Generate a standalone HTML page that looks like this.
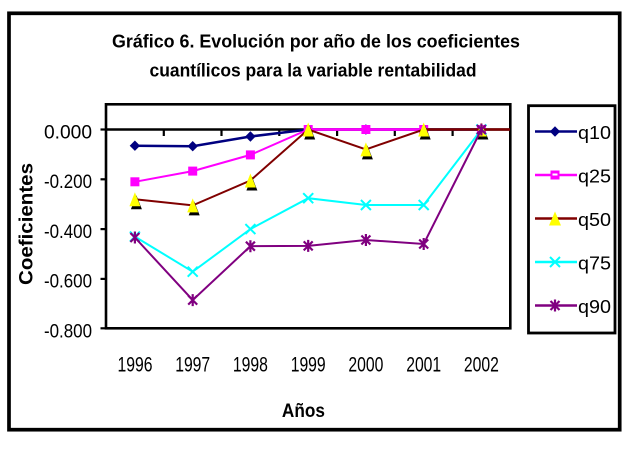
<!DOCTYPE html>
<html><head><meta charset="utf-8"><style>
html,body{margin:0;padding:0;background:#fff;}
svg{display:block;}
text{font-family:"Liberation Sans",Arial,sans-serif;fill:#000;}
</style></head><body>
<svg width="633" height="450" viewBox="0 0 633 450" xmlns="http://www.w3.org/2000/svg">
<rect x="0" y="0" width="633" height="450" fill="#fff"/>
<!-- outer border -->
<rect x="9" y="13.3" width="610.7" height="416.4" fill="none" stroke="#000" stroke-width="3.7"/>
<!-- title -->
<text x="316" y="47.7" font-size="18" font-weight="bold" text-anchor="middle" textLength="408" lengthAdjust="spacingAndGlyphs">Gráfico 6. Evolución por año de los coeficientes</text>
<text x="313" y="76.7" font-size="18" font-weight="bold" text-anchor="middle" textLength="327" lengthAdjust="spacingAndGlyphs">cuantílicos para la variable rentabilidad</text>
<!-- plot area -->
<rect x="106" y="104.3" width="404.3" height="224" fill="none" stroke="#000" stroke-width="2.6"/>
<!-- y ticks -->
<g stroke="#000" stroke-width="2.2">
<line x1="100.5" y1="129.5" x2="106" y2="129.5"/>
<line x1="100.5" y1="179.3" x2="106" y2="179.3"/>
<line x1="100.5" y1="229.1" x2="106" y2="229.1"/>
<line x1="100.5" y1="278.9" x2="106" y2="278.9"/>
<line x1="100.5" y1="328.3" x2="106" y2="328.3"/>
</g>
<!-- zero axis line -->
<line x1="106" y1="129.5" x2="510" y2="129.5" stroke="#000" stroke-width="2.6"/>
<g stroke="#000" stroke-width="2.2">
<line x1="163.8" y1="129.5" x2="163.8" y2="136"/>
<line x1="221.5" y1="129.5" x2="221.5" y2="136"/>
<line x1="279.3" y1="129.5" x2="279.3" y2="136"/>
<line x1="337.1" y1="129.5" x2="337.1" y2="136"/>
<line x1="394.8" y1="129.5" x2="394.8" y2="136"/>
<line x1="452.6" y1="129.5" x2="452.6" y2="136"/>
</g>
<!-- y labels -->
<g font-size="19" text-anchor="end">
<text x="92" y="138.3" textLength="48" lengthAdjust="spacingAndGlyphs">0.000</text>
<text x="92" y="188.1" textLength="48" lengthAdjust="spacingAndGlyphs">-0.200</text>
<text x="92" y="237.9" textLength="48" lengthAdjust="spacingAndGlyphs">-0.400</text>
<text x="92" y="287.7" textLength="48" lengthAdjust="spacingAndGlyphs">-0.600</text>
<text x="92" y="337.3" textLength="48" lengthAdjust="spacingAndGlyphs">-0.800</text>
</g>
<!-- x labels -->
<g font-size="21.5" text-anchor="middle">
<text x="135" y="371.5" textLength="35" lengthAdjust="spacingAndGlyphs">1996</text>
<text x="192.7" y="371.5" textLength="35" lengthAdjust="spacingAndGlyphs">1997</text>
<text x="250.4" y="371.5" textLength="35" lengthAdjust="spacingAndGlyphs">1998</text>
<text x="308.2" y="371.5" textLength="35" lengthAdjust="spacingAndGlyphs">1999</text>
<text x="365.9" y="371.5" textLength="35" lengthAdjust="spacingAndGlyphs">2000</text>
<text x="423.7" y="371.5" textLength="35" lengthAdjust="spacingAndGlyphs">2001</text>
<text x="481.4" y="371.5" textLength="35" lengthAdjust="spacingAndGlyphs">2002</text>
</g>
<!-- axis titles -->
<text x="303.4" y="417" font-size="19" font-weight="bold" text-anchor="middle" textLength="43" lengthAdjust="spacingAndGlyphs">Años</text>
<text transform="translate(32.5,224) rotate(-90)" x="0" y="0" font-size="19" font-weight="bold" text-anchor="middle" textLength="122" lengthAdjust="spacingAndGlyphs">Coeficientes</text>

<!-- q10 -->
<polyline fill="none" stroke="#000080" stroke-width="2.5" points="134.9,145.7 192.7,146.2 250.4,136.5 308.2,129.5 365.9,129.5 423.7,129.5 481.4,129.5"/>
<g fill="#000080">
<polygon points="134.9,140.5 140.1,145.7 134.9,150.9 129.7,145.7"/>
<polygon points="192.7,141 197.9,146.2 192.7,151.4 187.5,146.2"/>
<polygon points="250.4,131.3 255.6,136.5 250.4,141.7 245.2,136.5"/>
<polygon points="308.2,124.3 313.4,129.5 308.2,134.7 303,129.5"/>
<polygon points="365.9,124.3 371.1,129.5 365.9,134.7 360.7,129.5"/>
<polygon points="423.7,124.3 428.9,129.5 423.7,134.7 418.5,129.5"/>
<polygon points="481.4,124.3 486.6,129.5 481.4,134.7 476.2,129.5"/>
</g>
<!-- q25 -->
<polyline fill="none" stroke="#FF00FF" stroke-width="2" points="134.9,181.8 192.7,171.1 250.4,154.9 308.2,129.5 365.9,129.5 423.7,129.5 481.4,129.5"/>
<polyline fill="none" stroke="#FF00FF" stroke-width="2.8" points="308.2,129.5 423.7,129.5"/>
<g fill="#FF00FF">
<rect x="130.4" y="177.3" width="9" height="9"/>
<rect x="188.2" y="166.6" width="9" height="9"/>
<rect x="245.9" y="150.4" width="9" height="9"/>
<rect x="303.7" y="125" width="9" height="9"/>
<rect x="361.4" y="125" width="9" height="9"/>
<rect x="419.2" y="125" width="9" height="9"/>
<rect x="476.9" y="125" width="9" height="9"/>
</g>
<!-- q50 -->
<polyline fill="none" stroke="#800000" stroke-width="2" points="134.9,199.2 192.7,205.4 250.4,180.5 308.2,129.5 365.9,149.4 423.7,129.5 481.4,129.5"/>
<polyline fill="none" stroke="#800000" stroke-width="2.6" points="423.7,129.5 510,129.5"/>
<g>
<g transform="translate(134.9,199.2)"><polygon points="1.5,-4 7,10 -4,10" fill="#000"/><polygon points="0,-7 5.5,7 -5.5,7" fill="#FFFF00"/></g>
<g transform="translate(192.7,205.4)"><polygon points="1.5,-4 7,10 -4,10" fill="#000"/><polygon points="0,-7 5.5,7 -5.5,7" fill="#FFFF00"/></g>
<g transform="translate(250.4,180.5)"><polygon points="1.5,-4 7,10 -4,10" fill="#000"/><polygon points="0,-7 5.5,7 -5.5,7" fill="#FFFF00"/></g>
<g transform="translate(308.2,129.5)"><polygon points="1.5,-4 7,10 -4,10" fill="#000"/><polygon points="0,-7 5.5,7 -5.5,7" fill="#FFFF00"/></g>
<g transform="translate(365.9,149.4)"><polygon points="1.5,-4 7,10 -4,10" fill="#000"/><polygon points="0,-7 5.5,7 -5.5,7" fill="#FFFF00"/></g>
<g transform="translate(423.7,129.5)"><polygon points="1.5,-4 7,10 -4,10" fill="#000"/><polygon points="0,-7 5.5,7 -5.5,7" fill="#FFFF00"/></g>
<g transform="translate(481.4,129.5)"><polygon points="1.5,-4 7,10 -4,10" fill="#000"/><polygon points="0,-7 5.5,7 -5.5,7" fill="#FFFF00"/></g>
</g>
<!-- q75 -->
<polyline fill="none" stroke="#00FFFF" stroke-width="2" points="134.9,236.6 192.7,271.7 250.4,229.1 308.2,198.2 365.9,205 423.7,205 481.4,129.5"/>
<g stroke="#00FFFF" stroke-width="2">
<path d="M129.9,231.6l10,10M139.9,231.6l-10,10"/>
<path d="M187.7,266.7l10,10M197.7,266.7l-10,10"/>
<path d="M245.4,224.1l10,10M255.4,224.1l-10,10"/>
<path d="M303.2,193.2l10,10M313.2,193.2l-10,10"/>
<path d="M360.9,200l10,10M370.9,200l-10,10"/>
<path d="M418.7,200l10,10M428.7,200l-10,10"/>
<path d="M476.4,124.5l10,10M486.4,124.5l-10,10"/>
</g>
<!-- q90 -->
<polyline fill="none" stroke="#800080" stroke-width="2" points="134.9,237.5 192.7,300.1 250.4,246.2 308.2,245.9 365.9,240 423.7,244 481.4,129.5"/>
<g stroke="#800080" stroke-width="2.2">
<path d="M130.4,233l9,9M139.4,233l-9,9M134.9,231.5v12"/>
<path d="M188.2,295.6l9,9M197.2,295.6l-9,9M192.7,294.1v12"/>
<path d="M245.9,241.7l9,9M254.9,241.7l-9,9M250.4,240.2v12"/>
<path d="M303.7,241.4l9,9M312.7,241.4l-9,9M308.2,239.9v12"/>
<path d="M361.4,235.5l9,9M370.4,235.5l-9,9M365.9,234v12"/>
<path d="M419.2,239.5l9,9M428.2,239.5l-9,9M423.7,238v12"/>
<path d="M476.9,125l9,9M485.9,125l-9,9M481.4,123.5v12"/>
</g>

<!-- legend -->
<rect x="528.5" y="105.7" width="86.5" height="227.3" fill="#fff" stroke="#000" stroke-width="2.8"/>
<g font-size="18.5">
<line x1="535" y1="131.5" x2="577" y2="131.5" stroke="#000080" stroke-width="2.5"/>
<polygon points="555,126.3 560.2,131.5 555,136.7 549.8,131.5" fill="#000080"/>
<text x="578" y="139" textLength="33" lengthAdjust="spacingAndGlyphs">q10</text>

<line x1="535" y1="175" x2="577" y2="175" stroke="#FF00FF" stroke-width="2.5"/>
<rect x="550.5" y="170.5" width="9" height="9" fill="#FF00FF"/>
<rect x="552.5" y="173.5" width="5" height="2" fill="#fff"/>
<text x="578" y="182.5" textLength="33" lengthAdjust="spacingAndGlyphs">q25</text>

<line x1="535" y1="218.5" x2="577" y2="218.5" stroke="#800000" stroke-width="2.5"/>
<polygon points="555,211.5 561,225.5 549,225.5" fill="#FFFF00"/>
<text x="578" y="226" textLength="33" lengthAdjust="spacingAndGlyphs">q50</text>

<line x1="535" y1="262" x2="577" y2="262" stroke="#00FFFF" stroke-width="2.5"/>
<path d="M550,257l10,10M560,257l-10,10" stroke="#00FFFF" stroke-width="2"/>
<text x="578" y="269.5" textLength="33" lengthAdjust="spacingAndGlyphs">q75</text>

<line x1="535" y1="305.5" x2="577" y2="305.5" stroke="#800080" stroke-width="2.5"/>
<path d="M550.5,301l9,9M559.5,301l-9,9M555,299.5v12" stroke="#800080" stroke-width="2.2"/>
<text x="578" y="313" textLength="33" lengthAdjust="spacingAndGlyphs">q90</text>
</g>
</svg>
</body></html>
